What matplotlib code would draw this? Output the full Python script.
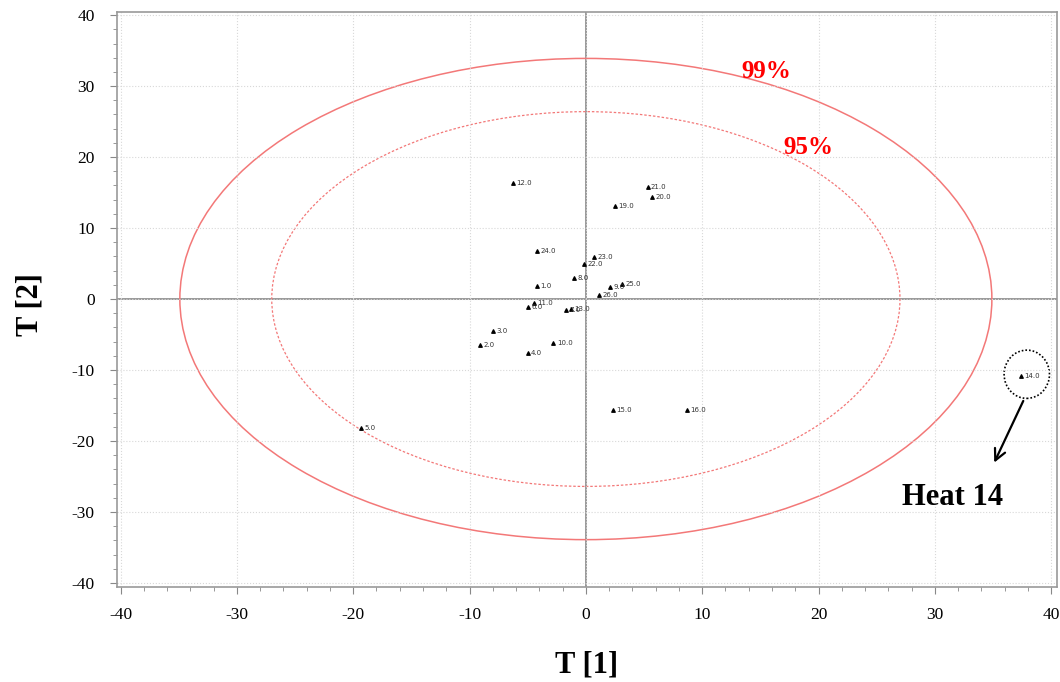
import numpy as np
import matplotlib.pyplot as plt
from matplotlib.patches import Ellipse

# score values
heat_l = ["1.0", "2.0", "3.0", "4.0", "5.0", "6.0", "7.0", "8.0", "9.0", "10.0",
          "11.0", "12.0", "13.0", "14.0", "15.0", "16.0", "19.0", "20.0", "21.0",
          "22.0", "23.0", "24.0", "25.0", "26.0"]
t1 = [-4.2, -9.1, -8.0, -5.0, -19.3, -5.0, -1.7, -1.0, 2.1, -2.8,
      -4.5, -6.3, -1.3, 37.4, 2.3, 8.7, 2.5, 5.7, 5.3,
      -0.2, 0.7, -4.2, 3.1, 1.1]
t2 = [1.8, -6.5, -4.5, -7.6, -18.2, -1.1, -1.5, 2.9, 1.7, -6.2,
      -0.6, 16.4, -1.4, -10.9, -15.6, -15.6, 13.1, 14.4, 15.8,
      4.9, 5.9, 6.8, 2.1, 0.5]

# confidence ellipses (semi axes)
ell_99 = (34.9, 33.9)
ell_95 = (27.0, 26.4)

plt.rcParams['font.family'] = ['Liberation Serif', 'DejaVu Serif']
plt.rcParams['axes.unicode_minus'] = False

fig = plt.figure(figsize=(10.6, 6.82), dpi=100)
ax = fig.add_axes([0.1104, 0.139, 0.8868, 0.843])

ax.set_xlim(-40.3, 40.5)
ax.set_ylim(-40.6, 40.4)

ax.set_xticks(np.arange(-40, 41, 10))
ax.set_yticks(np.arange(-40, 41, 10))
ax.set_xticks(np.arange(-40, 41, 2), minor=True)
ax.set_yticks(np.arange(-40, 41, 2), minor=True)
ax.grid(True, which='major', color='#d8d8d8', linestyle=':', linewidth=0.8)
ax.tick_params(which='both', direction='out', color='#888888', labelsize=12.5)
ax.tick_params(which='major', length=5)
ax.tick_params(which='minor', length=3)
ax.tick_params(axis='x', which='major', pad=9)
ax.tick_params(axis='y', which='major', pad=11)
for sp in ax.spines.values():
    sp.set_color('#999999')
    sp.set_linewidth(1.2)

ax.axhline(0, color='#999999', lw=1.4, zorder=1)
ax.axvline(0, color='#999999', lw=1.4, zorder=1)

e99 = Ellipse((0, 0), 2*ell_99[0], 2*ell_99[1], fill=False,
              edgecolor='#f37878', lw=1.1)
e95 = Ellipse((0, 0), 2*ell_95[0], 2*ell_95[1], fill=False,
              edgecolor='#f37878', lw=0.9, linestyle=(0, (2, 1.5)))
ax.add_patch(e99)
ax.add_patch(e95)

ax.text(15.5, 32.0, "99%", color='red', fontsize=18, fontweight='bold',
        ha='center', va='center')
ax.text(19.1, 21.4, "95%", color='red', fontsize=18, fontweight='bold',
        ha='center', va='center')

ax.scatter(t1, t2, marker='^', s=6, color='black', zorder=3)
for lab, x, y in zip(heat_l, t1, t2):
    ax.text(x + 0.3, y, lab, fontsize=5, color='#333333', va='center',
            ha='left', family='DejaVu Sans')

# highlight heat 14
ax.add_patch(Ellipse((37.9, -10.6), 3.9, 6.8, fill=False, edgecolor='black',
                     lw=1.2, linestyle=(0, (1, 1.2))))
ax.annotate("", xy=(35.0, -23.4), xytext=(37.7, -14.0),
            arrowprops=dict(arrowstyle='->', color='black', lw=1.6,
                            mutation_scale=20))
ax.text(31.5, -27.9, "Heat 14", fontsize=22, fontweight='bold',
        ha='center', va='center')

fig.text(0.553, 0.025, "T [1]", fontsize=22, fontweight='bold',
         ha='center', va='center')
fig.text(0.028, 0.553, "T [2]", fontsize=22, fontweight='bold',
         ha='center', va='center', rotation=90)

fig.savefig("out.png", dpi=100)
